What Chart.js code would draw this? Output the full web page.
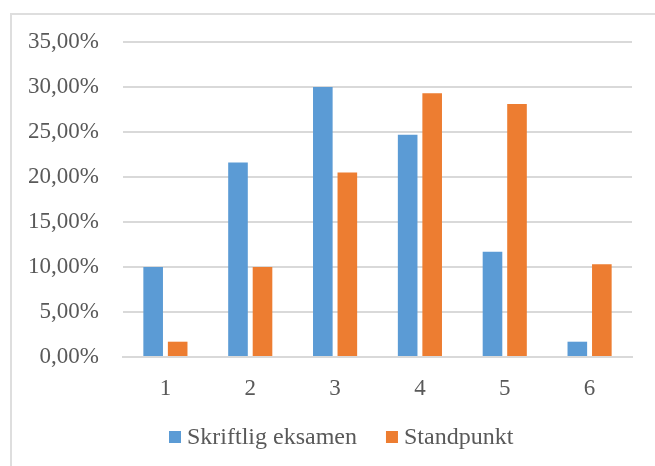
<!DOCTYPE html>
<html lang="no">
<head>
  <meta charset="UTF-8">
  <title>Skriftlig eksamen og standpunkt</title>
  <script src="https://cdn.jsdelivr.net/npm/chart.js"></script>
  <style>
    body { margin: 0; background: #fff; }
    #wrap { position: relative; width: 655px; height: 466px; overflow: hidden; }
    #frame { position: absolute; left: 10px; top: 13px; width: 700px; height: 500px; border: 2px solid #dedede; box-sizing: border-box; }
    canvas { position: absolute; left: 0; top: 0; }
  </style>
</head>
<body>

<div id="wrap">
  <div id="frame"></div>
  <canvas id="karakterChart" width="655" height="466"></canvas>
</div>

<script>
  // karakterer 1-6
  const karakterer = ['1', '2', '3', '4', '5', '6'];
  const skriftlig = [10.0, 21.6, 30.0, 24.7, 11.7, 1.7];
  const standpunkt = [1.7, 10.0, 20.5, 29.3, 28.1, 10.3];
  const yTicks = [0, 5, 10, 15, 20, 25, 30, 35];

  const grey = '#595959';
  const gridColor = '#d9d9d9';
  const serif = '"Liberation Serif", "Times New Roman", serif';

  // legenden tegnes selv, slik at den ligner Excel (liten avstand boks-tekst)
  const excelLegend = {
    id: 'excelLegend',
    afterDraw(chart) {
      const c = chart.ctx;
      let x = 169;
      const y = 437;
      c.save();
      c.font = '24px ' + serif;
      c.textBaseline = 'middle';
      c.textAlign = 'left';
      chart.data.datasets.forEach(ds => {
        c.fillStyle = ds.backgroundColor;
        c.fillRect(x, y - 6, 12, 12);
        c.fillStyle = grey;
        c.fillText(ds.label, x + 18, y + 1);
        x += 18 + c.measureText(ds.label).width + 29;
      });
      c.restore();
    }
  };

  const ctx = document.getElementById('karakterChart').getContext('2d');

  new Chart(ctx, {
    type: 'bar',
    data: {
      labels: karakterer,
      datasets: [
        { label: 'Skriftlig eksamen', data: skriftlig, backgroundColor: '#5B9BD5' },
        { label: 'Standpunkt', data: standpunkt, backgroundColor: '#ED7D31' }
      ]
    },
    options: {
      responsive: false,
      animation: false,
      datasets: { bar: { categoryPercentage: 0.578, barPercentage: 0.8 } },
      layout: { padding: { top: 42, right: 23, bottom: 50, left: 0 } },
      plugins: {
        tooltip: { enabled: false },
        legend: { display: false }
      },
      scales: {
        x: {
          grid: { display: false, drawTicks: false },
          border: { color: gridColor, width: 2 },
          ticks: { font: { family: serif, size: 23 }, color: grey, padding: 18 },
          afterFit: (scale) => { scale.height = 59; }
        },
        y: {
          min: 0,
          max: 35,
          grid: { color: gridColor, lineWidth: 2, drawTicks: false },
          border: { display: false },
          afterBuildTicks: (scale) => { scale.ticks = yTicks.map(v => ({ value: v })); },
          ticks: {
            font: { family: serif, size: 23 },
            color: grey,
            padding: 24,
            callback: (v) => v.toFixed(2).replace('.', ',') + '%'
          },
          afterFit: (scale) => { scale.width = 123; }
        }
      }
    },
    plugins: [excelLegend]
  });
</script>

</body>
</html>
